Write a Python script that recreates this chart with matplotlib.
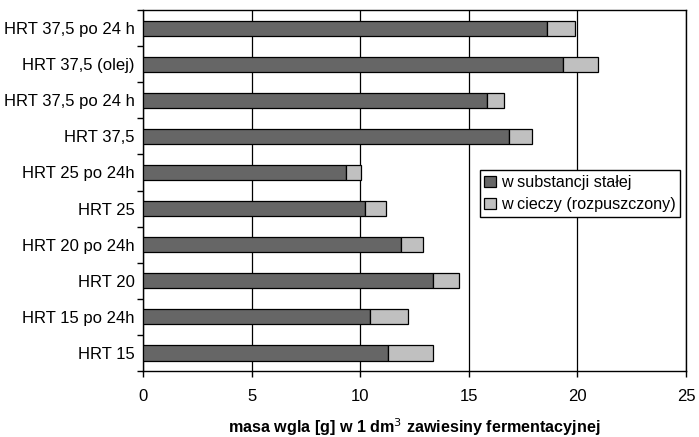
import matplotlib
matplotlib.use("Agg")
import matplotlib.pyplot as plt
import numpy as np

plt.rcParams['font.family'] = ['Liberation Sans', 'DejaVu Sans']

categories = ["HRT 15", "HRT 15 po 24h", "HRT 20", "HRT 20 po 24h", "HRT 25",
              "HRT 25 po 24h", "HRT 37,5", "HRT 37,5 po 24 h", "HRT 37,5 (olej)",
              "HRT 37,5 po 24 h"]
solid = [11.3, 10.45, 13.37, 11.88, 10.22, 9.33, 16.87, 15.85, 19.35, 18.59]
liquid = [2.07, 1.75, 1.18, 1.0, 0.95, 0.71, 1.05, 0.79, 1.61, 1.3]
xticks = [0, 5, 10, 15, 20, 25]

fig = plt.figure(figsize=(6.99, 4.37), dpi=100)
ax = fig.add_axes([0.2046, 0.151, 0.7768, 0.826])

y = np.arange(len(categories))
h = 0.42
ax.barh(y, solid, height=h, color='#666666', edgecolor='black', linewidth=0.9,
        label='w substancji stałej', zorder=3)
ax.barh(y, liquid, left=solid, height=h, color='#c0c0c0', edgecolor='black',
        linewidth=0.9, label='w cieczy (rozpuszczony)', zorder=3)

ax.set_xlim(0, 25)
ax.set_ylim(-0.5, len(categories) - 0.5)
ax.set_xticks(xticks)
ax.set_xticklabels([str(t) for t in xticks], fontsize=12)
ax.set_yticks(y)
ax.set_yticklabels(categories, fontsize=12)
ax.set_yticks(np.arange(-0.5, len(categories), 1), minor=True)
ax.tick_params(axis='y', which='major', length=0, pad=6)
ax.tick_params(axis='x', which='major', length=4, width=1, direction='out', pad=9)
ax.tick_params(axis='y', which='minor', length=4, width=1, direction='out')
ax.grid(axis='x', color='black', linewidth=0.9, zorder=0)
for s in ax.spines.values():
    s.set_linewidth(1.0)

ax.set_xlabel('masa wgla [g] w 1 dm$^3$ zawiesiny fermentacyjnej',
              fontsize=11.6, fontweight='bold', labelpad=9)

leg = ax.legend(loc='upper left', bbox_to_anchor=(0.62, 0.557), fontsize=11.6,
                frameon=True, fancybox=False, edgecolor='black', framealpha=1,
                handlelength=0.7, handleheight=0.7, handletextpad=0.3,
                borderpad=0.3, labelspacing=0.45, borderaxespad=0)
leg.get_frame().set_linewidth(1.0)

fig.savefig('out.png', dpi=100)
